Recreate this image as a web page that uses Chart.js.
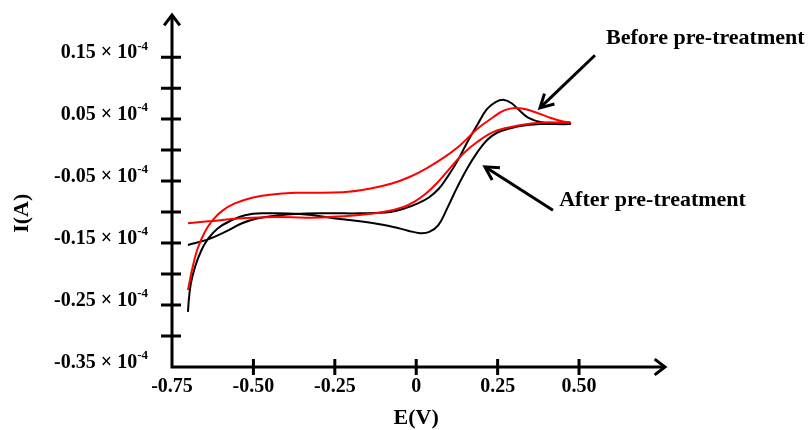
<!DOCTYPE html>
<html>
<head>
<meta charset="utf-8">
<script src="https://cdn.jsdelivr.net/npm/chart.js@4.4.0/dist/chart.umd.min.js"></script>
<style>
    html, body { margin: 0; padding: 0; background: #fff; }
</style>
</head>
<body>
<canvas id="cv" width="810" height="430"></canvas>
<script>
// I values are in units of 10^-4 A, E in V
const afterCurve = [
    [-0.701, -0.153], [-0.639, -0.144], [-0.587, -0.132], [-0.535, -0.118], [-0.486, -0.110],
    [-0.434, -0.106], [-0.372, -0.103], [-0.265, -0.102], [-0.173, -0.102], [-0.080, -0.100],
    [-0.035, -0.094], [0.005, -0.086], [0.040, -0.076], [0.070, -0.062], [0.095, -0.044],
    [0.125, -0.019], [0.156, 0.012], [0.187, 0.040], [0.217, 0.066], [0.245, 0.078],
    [0.270, 0.081], [0.292, 0.076], [0.315, 0.065], [0.345, 0.052], [0.385, 0.045],
    [0.432, 0.044], [0.472, 0.044],
    [0.472, 0.042], [0.380, 0.042], [0.319, 0.039], [0.288, 0.035], [0.248, 0.028],
    [0.217, 0.016], [0.187, -0.004], [0.156, -0.030], [0.125, -0.061], [0.095, -0.094],
    [0.068, -0.121], [0.040, -0.132], [0.012, -0.134], [-0.025, -0.130], [-0.070, -0.124],
    [-0.130, -0.118], [-0.234, -0.111], [-0.357, -0.103], [-0.474, -0.102], [-0.526, -0.105],
    [-0.566, -0.113], [-0.609, -0.126], [-0.639, -0.143], [-0.660, -0.162], [-0.679, -0.188],
    [-0.692, -0.215], [-0.698, -0.240], [-0.701, -0.261]
];

const beforeCurve = [
    [-0.701, -0.118], [-0.639, -0.115], [-0.535, -0.110], [-0.434, -0.108], [-0.326, -0.109],
    [-0.182, -0.105], [-0.102, -0.100], [-0.041, -0.092], [-0.005, -0.083], [0.030, -0.070],
    [0.064, -0.053], [0.104, -0.029], [0.144, -0.006], [0.187, 0.013], [0.236, 0.029],
    [0.288, 0.037], [0.380, 0.044], [0.472, 0.044],
    [0.472, 0.045], [0.451, 0.046], [0.402, 0.054], [0.350, 0.064], [0.305, 0.068],
    [0.270, 0.064], [0.236, 0.053], [0.187, 0.034], [0.135, 0.008], [0.082, -0.013],
    [0.033, -0.029], [-0.019, -0.043], [-0.075, -0.054], [-0.140, -0.062], [-0.225, -0.068],
    [-0.372, -0.069], [-0.450, -0.072], [-0.504, -0.077], [-0.557, -0.086], [-0.596, -0.098],
    [-0.625, -0.113], [-0.650, -0.133], [-0.672, -0.160], [-0.688, -0.192], [-0.701, -0.226]
];

const xMin = -0.75, xMax = 0.764;
const yMin = -0.35, yMax = 0.218;
const xTicks = [-0.5, -0.25, 0, 0.25, 0.5];
const xTickLabels = [[-0.75, '-0.75'], [-0.5, '-0.50'], [-0.25, '-0.25'], [0, '0'], [0.25, '0.25'], [0.5, '0.50']];
const yTicks = [-0.30, -0.25, -0.20, -0.15, -0.10, -0.05, 0, 0.05, 0.10, 0.15];
const yTickLabels = [[0.15, '0.15'], [0.05, '0.05'], [-0.05, '-0.05'], [-0.15, '-0.15'], [-0.25, '-0.25'], [-0.35, '-0.35']];

// annotation: [tailX, tailY, tipX, tipY], text anchor [x, y]
const beforeArrow = [0.549, 0.153, 0.380, 0.068];
const beforeText = [0.583, 0.181, 'Before pre-treatment'];
const afterArrow = [0.420, -0.097, 0.211, -0.027];
const afterText = [0.439, -0.081, 'After pre-treatment'];

const FONT = '"Liberation Serif", "Times New Roman", serif';

function drawArrowHead(ctx, fx, fy, tx, ty, len, ang) {
    const a = Math.atan2(ty - fy, tx - fx);
    ctx.beginPath();
    ctx.moveTo(tx - len * Math.cos(a - ang), ty - len * Math.sin(a - ang));
    ctx.lineTo(tx, ty);
    ctx.lineTo(tx - len * Math.cos(a + ang), ty - len * Math.sin(a + ang));
    ctx.stroke();
}

const axesPlugin = {
    id: 'cvAxes',
    afterDraw(chart) {
        const { ctx } = chart;
        const sx = chart.scales.x, sy = chart.scales.y;
        const x0 = sx.getPixelForValue(xMin), y0 = sy.getPixelForValue(yMin);
        const xEnd = sx.getPixelForValue(xMax), yEnd = sy.getPixelForValue(yMax);

        ctx.save();
        ctx.strokeStyle = '#000';
        ctx.fillStyle = '#000';
        ctx.lineWidth = 3;

        ctx.beginPath();
        ctx.moveTo(x0, yEnd + 1);
        ctx.lineTo(x0, y0);
        ctx.lineTo(xEnd - 1, y0);
        ctx.stroke();
        drawArrowHead(ctx, x0, y0, x0, yEnd, 13, 0.65);
        drawArrowHead(ctx, x0, y0, xEnd, y0, 13, 0.65);

        // ticks
        ctx.beginPath();
        yTicks.forEach(v => {
            const py = sy.getPixelForValue(v);
            ctx.moveTo(x0 - 11, py);
            ctx.lineTo(x0 + 9, py);
        });
        xTicks.forEach(v => {
            const px = sx.getPixelForValue(v);
            ctx.moveTo(px, y0 - 8);
            ctx.lineTo(px, y0 + 8);
        });
        ctx.stroke();

        // x tick labels
        ctx.font = 'bold 20px ' + FONT;
        ctx.textAlign = 'center';
        ctx.textBaseline = 'middle';
        xTickLabels.forEach(([v, t]) => {
            ctx.fillText(t, sx.getPixelForValue(v), y0 + 20);
        });

        // y tick labels: "n × 10^-4"
        yTickLabels.forEach(([v, t]) => {
            const py = sy.getPixelForValue(v) - 4;
            const right = x0 - 24;
            ctx.font = 'bold 13px ' + FONT;
            const supW = ctx.measureText('-4').width;
            ctx.textAlign = 'right';
            ctx.textBaseline = 'middle';
            ctx.fillText('-4', right, py - 7);
            ctx.font = 'bold 20px ' + FONT;
            ctx.fillText(t + ' \u00d7 10', right - supW, py);
        });

        // axis titles
        ctx.font = 'bold 22px ' + FONT;
        ctx.textAlign = 'center';
        ctx.fillText('E(V)', sx.getPixelForValue(0), y0 + 51);
        ctx.save();
        ctx.translate(22, sy.getPixelForValue(-0.102));
        ctx.rotate(-Math.PI / 2);
        ctx.fillText('I(A)', 0, 0);
        ctx.restore();

        // annotations
        [[beforeArrow, beforeText], [afterArrow, afterText]].forEach(([arr, txt]) => {
            const fx = sx.getPixelForValue(arr[0]), fy = sy.getPixelForValue(arr[1]);
            const tx = sx.getPixelForValue(arr[2]), ty = sy.getPixelForValue(arr[3]);
            ctx.lineWidth = 3;
            ctx.beginPath();
            ctx.moveTo(fx, fy);
            ctx.lineTo(tx, ty);
            ctx.stroke();
            drawArrowHead(ctx, fx, fy, tx, ty, 15, 0.5);
            ctx.font = 'bold 22px ' + FONT;
            ctx.textAlign = 'left';
            ctx.textBaseline = 'middle';
            ctx.fillText(txt[2], sx.getPixelForValue(txt[0]), sy.getPixelForValue(txt[1]));
        });
        ctx.restore();
    }
};

new Chart(document.getElementById('cv').getContext('2d'), {
    type: 'scatter',
    data: {
        datasets: [
            { label: 'Before pre-treatment', data: beforeCurve, showLine: true, borderColor: '#ff0000',
              borderWidth: 2, pointRadius: 0, tension: 0.4, fill: false },
            { label: 'After pre-treatment', data: afterCurve, showLine: true, borderColor: '#000000',
              borderWidth: 2, pointRadius: 0, tension: 0.4, fill: false }
        ]
    },
    options: {
        responsive: false,
        animation: false,
        devicePixelRatio: 1,
        layout: { padding: { left: 172, right: 145, top: 15, bottom: 63 } },
        plugins: { legend: { display: false }, tooltip: { enabled: false } },
        scales: {
            x: { type: 'linear', min: xMin, max: xMax, display: false },
            y: { type: 'linear', min: yMin, max: yMax, display: false }
        }
    },
    plugins: [axesPlugin]
});
</script>
</body>
</html>
